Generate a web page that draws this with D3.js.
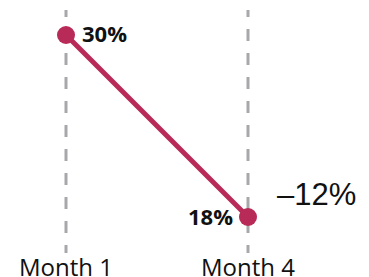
<!DOCTYPE html>
<html>
<head>
<meta charset="utf-8">
<script src="https://cdn.jsdelivr.net/npm/d3@7"></script>
<style>
    body { margin: 0; background: #fff; font-family: 'Open Sans', sans-serif; }
</style>
</head>
<body>
<svg id="chart" width="369" height="277"></svg>
<script>
    // data
    var months = ['Month 1', 'Month 4'];
    var values = [30, 18];
    var changeLabel = '\u201312%';

    var svg = d3.select('#chart');

    var x = d3.scalePoint()
        .domain(months)
        .range([66, 248]);

    var y = d3.scaleLinear()
        .domain([18, 30])
        .range([217, 35]);

    var pts = months.map(function(m, i) { return { m: m, v: values[i] }; });

    // dashed guides
    svg.selectAll('.guide')
        .data(months)
        .enter().append('line')
        .attr('x1', function(d) { return x(d); })
        .attr('x2', function(d) { return x(d); })
        .attr('y1', 10)
        .attr('y2', 253)
        .attr('stroke', '#a8a8ab')
        .attr('stroke-width', 3)
        .attr('stroke-dasharray', '12,12')
        .attr('stroke-dashoffset', 5);

    svg.append('path')
        .datum(pts)
        .attr('fill', 'none')
        .attr('stroke', '#b82a58')
        .attr('stroke-width', 5)
        .attr('d', d3.line()
            .x(function(d) { return x(d.m); })
            .y(function(d) { return y(d.v); }));

    svg.selectAll('.dot')
        .data(pts)
        .enter().append('circle')
        .attr('cx', function(d) { return x(d.m); })
        .attr('cy', function(d) { return y(d.v); })
        .attr('r', 9)
        .attr('fill', '#b82a58');

    // value labels
    svg.append('text')
        .attr('x', x(months[0]) + 16)
        .attr('y', y(values[0]) + 7)
        .attr('font-weight', 'bold')
        .attr('font-size', 22)
        .attr('fill', '#111')
        .text(values[0] + '%');

    svg.append('text')
        .attr('x', x(months[1]) - 15)
        .attr('y', y(values[1]) + 8)
        .attr('text-anchor', 'end')
        .attr('font-weight', 'bold')
        .attr('font-size', 22)
        .attr('fill', '#111')
        .text(values[1] + '%');

    svg.append('text')
        .attr('x', 277)
        .attr('y', 205)
        .attr('font-family', "'Liberation Sans Narrow', 'Liberation Sans', sans-serif")
        .attr('font-size', 31)
        .attr('fill', '#111')
        .text(changeLabel);

    // x labels
    svg.selectAll('.xlab')
        .data(months)
        .enter().append('text')
        .attr('x', function(d) { return x(d); })
        .attr('y', 276)
        .attr('text-anchor', 'middle')
        .attr('font-size', 24)
        .attr('fill', '#111')
        .text(function(d) { return d; });
</script>
</body>
</html>
